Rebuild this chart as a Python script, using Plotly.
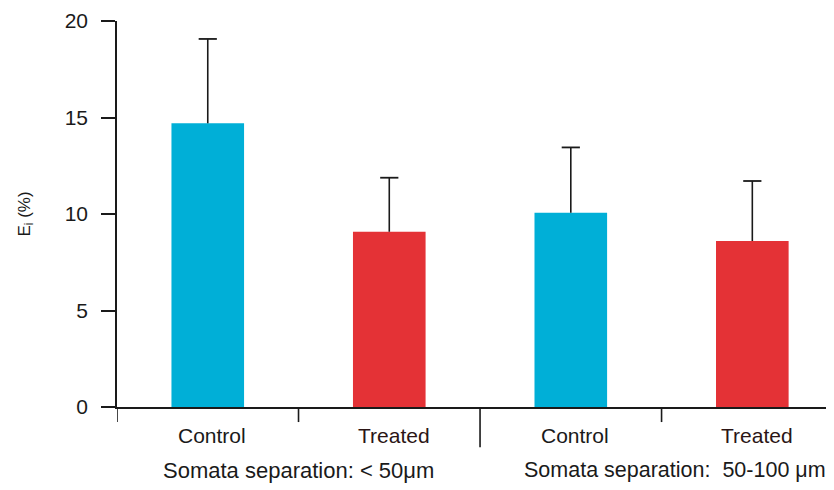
import plotly.graph_objects as go

categories = ["Control", "Treated", "Control", "Treated"]
values = [14.7, 9.08, 10.07, 8.6]
errors = [4.37, 2.8, 3.38, 3.11]
group_labels = ["Somata separation: < 50μm", "Somata separation:  50-100 μm"]
y_ticks = [0, 5, 10, 15, 20]
bar_colors = ["#00AFD7", "#E43236", "#00AFD7", "#E43236"]
label_colors = ["#1a1a1a", "#2b1515", "#1a1a1a", "#2b1515"]

xs = list(range(len(categories)))
tops = [v + e for v, e in zip(values, errors)]
font_family = "Liberation Sans, Arial, sans-serif"

fig = go.Figure()
fig.add_trace(go.Bar(
    x=xs, y=values, width=0.4,
    marker=dict(color=bar_colors, line=dict(width=0)),
    error_y=dict(type="data", array=errors, symmetric=False, arrayminus=[0]*len(errors),
                 color="#1a1a1a", thickness=1.6, width=0),
))
# caps at the top of the error bars only
fig.add_trace(go.Scatter(
    x=xs, y=tops, mode="markers", hoverinfo="skip",
    marker=dict(symbol="line-ew", size=13, color="#1a1a1a", line=dict(color="#1a1a1a", width=1.8)),
))

annotations = []
for i, (c, col) in enumerate(zip(categories, label_colors)):
    annotations.append(dict(x=i + 0.025, y=-0.073, xref="x", yref="paper", text=c, showarrow=False,
                            font=dict(size=21, color=col, family=font_family), xanchor="center", yanchor="middle"))
annotations.append(dict(x=0.5, y=-0.164, xref="x", yref="paper", text=group_labels[0], showarrow=False,
                        font=dict(size=22, color="#1a1a1a", family=font_family), xanchor="center", yanchor="middle"))
annotations.append(dict(x=2.574, y=-0.164, xref="x", yref="paper", text=group_labels[1], showarrow=False,
                        font=dict(size=21.5, color="#1a1a1a", family=font_family), xanchor="center", yanchor="middle"))

shapes = []
for b in [-0.5, 0.5, 2.5]:
    shapes.append(dict(type="line", xref="x", yref="paper", x0=b, x1=b, y0=0, y1=-0.039,
                       line=dict(color="#1a1a1a", width=1.6)))
shapes.append(dict(type="line", xref="x", yref="paper", x0=1.5, x1=1.5, y0=0, y1=-0.104,
                   line=dict(color="#1a1a1a", width=1.6)))

fig.update_layout(
    width=826, height=482,
    margin=dict(l=109, r=0, t=13, b=83),
    plot_bgcolor="white", paper_bgcolor="white",
    showlegend=False,
    font=dict(family=font_family, color="#1a1a1a"),
    annotations=annotations, shapes=shapes,
    xaxis=dict(range=[-0.5, 3.45], showgrid=False, zeroline=False, showline=True,
               linecolor="#1a1a1a", linewidth=1.6, showticklabels=False, ticks=""),
    yaxis=dict(range=[0, 20], tickvals=y_ticks, showgrid=False, zeroline=False, showline=True,
               linecolor="#1a1a1a", linewidth=1.6, ticks="outside", ticklen=14, tickwidth=1.6,
               tickcolor="#1a1a1a", tickfont=dict(size=21, color="#1a1a1a"), ticklabelstandoff=9,
               title=dict(text="E<sub>i</sub> (%)", font=dict(size=17, color="#1a1a1a"), standoff=30)),
)

fig.write_html("out.html")
